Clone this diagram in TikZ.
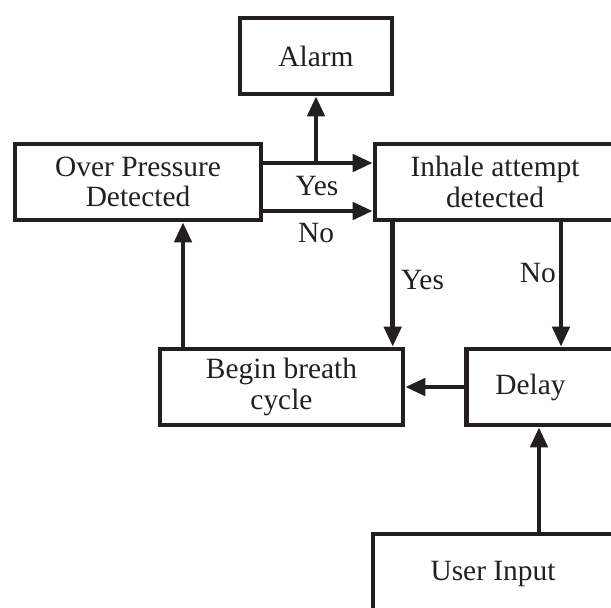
\documentclass[tikz,border=0pt]{standalone}
\usepackage{fontspec}
\setmainfont{Liberation Serif}
\usetikzlibrary{arrows.meta,calc}
\definecolor{ink}{RGB}{35,31,32}

\begin{document}
\begin{tikzpicture}[yscale=-1,x=1pt,y=1pt,
    box/.style={draw=ink,line width=4.6pt,minimum height=76pt,inner sep=0pt,align=center,
      text=ink,font=\fontsize{29.4}{30.5}\selectfont},
    arr/.style={draw=ink,line width=4.6pt,-{Triangle[length=20pt,width=17pt]}},
    lbl/.style={text=ink,inner sep=0pt,font=\fontsize{29.4}{30.5}\selectfont}]

        \useasboundingbox (0,0) rectangle (611,608);
        \clip (0,0) rectangle (611,608);

        \node[box,minimum width=152pt] (alarm) at (316,56) {Alarm};
        \node[box,minimum width=246pt] (op) at (138,182) {Over Pressure\\Detected};
        \node[box,minimum width=240pt] (inhale) at (495,182) {Inhale attempt\\detected};
        \node[box,minimum width=243pt] (begin) at (281.5,387) {Begin breath\\cycle};
        \node[box,anchor=west,minimum width=160pt,text width=102pt,inner xsep=29pt,align=left]
          (delay) at (464,387) {Delay};
        \node[box,minimum width=240pt,minimum height=80pt] (user) at (493,574) {User Input};

        % over pressure branch
        \coordinate (yesfork) at ($(op.east)+(0,-19)$);
        \coordinate (nofork) at ($(op.east)+(0,29)$);
        \draw[arr] (yesfork) -- (yesfork -| inhale.west);
        \draw[arr] (nofork) -- (nofork -| inhale.west);
        \draw[arr] (alarm.south |- yesfork) -- (alarm.south);
        \node[lbl] (yeslbl) at (317,186) {Yes};
        \node[lbl] (nolbl) at (316,233) {No};

        % inhale branch
        \draw[arr] ($(inhale.south west)+(20,0)$) coordinate (yesdrop) -- (yesdrop |- begin.north);
        \draw[arr] ($(inhale.south)+(66,0)$) coordinate (nodrop) -- (nodrop |- delay.north);
        \node[lbl,anchor=west] (yesdown) at (401,280) {Yes};
        \node[lbl,anchor=east] (nodown) at (556,273) {No};

        \draw[arr] (delay.west) -- (begin.east);
        \draw[arr] ($(begin.north)+(-98.5,0)$) coordinate (upfoot) -- (upfoot |- op.south);
        \draw[arr] ($(user.north)+(46,0)$) coordinate (userup) -- (userup |- delay.south);
    \end{tikzpicture}
\end{document}
